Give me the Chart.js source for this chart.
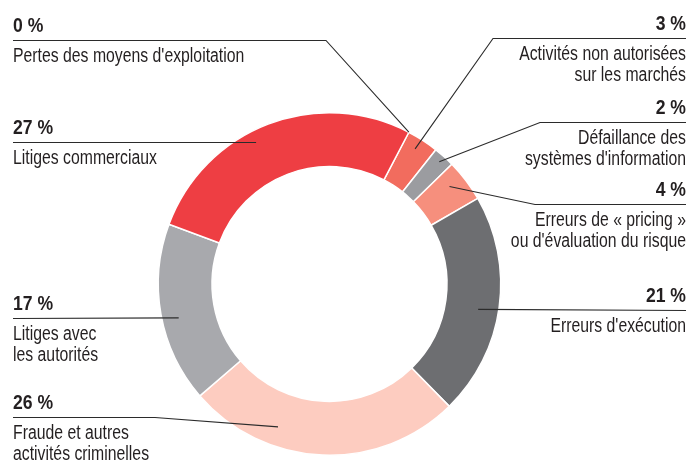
<!DOCTYPE html>
<html>
<head>
<meta charset="utf-8">
<script src="https://cdn.jsdelivr.net/npm/chart.js@4.4.1/dist/chart.umd.min.js"></script>
<style>
  html, body { margin: 0; padding: 0; background: #fff; }
  #wrap { width: 688px; height: 467px; position: relative; }
</style>
</head>
<body>
<div id="wrap"><canvas id="donut"></canvas></div>
<script>
// categories, clockwise from the top-right
const categories = [
  ["Pertes des moyens d'exploitation"],
  ['Activités non autorisées', 'sur les marchés'],
  ['Défaillance des', "systèmes d'information"],
  ['Erreurs de « pricing »', "ou d'évaluation du risque"],
  ["Erreurs d'exécution"],
  ['Fraude et autres', 'activités criminelles'],
  ['Litiges avec', 'les autorités'],
  ['Litiges commerciaux']
];
const shares = [0, 3, 2, 4, 21, 26, 17, 27];
const shareLabels = shares.map(v => v + ' %');

const sliceColors = ['#c4c4c4', '#f26c5e', '#9b9ca0', '#f68f7d', '#6d6e71', '#fdccc0', '#a8a9ad', '#ee3e43'];

// where each callout sits (layout only)
const callouts = [
  { side: 'left',  lineY: 40,  elbowX: 326, along: 0.5,   depth: 1.0 },
  { side: 'right', lineY: 38,  elbowX: 493, along: 0.44,  depth: 0.79 },
  { side: 'right', lineY: 122, elbowX: 540, along: 0.49,  depth: 0.87 },
  { side: 'right', lineY: 204, elbowX: 535, along: 0.37,  depth: 0.69 },
  { side: 'right', lineY: 310, elbowX: null, along: 0.525, depth: 0.62 },
  { side: 'left',  lineY: 417, elbowX: 155, along: 0.686, depth: 0.64 },
  { side: 'left',  lineY: 318, elbowX: null, along: 0.46,  depth: 0.69 },
  { side: 'left',  lineY: 142, elbowX: null, along: 0.434, depth: 0.78 }
];

// no condensed face installed, so squeeze Liberation Sans sideways
const FONT = "'Liberation Sans', Arial, sans-serif";
const LEFT_X = 13, RIGHT_X = 686;

function narrowText(ctx, txt, x, y, squeeze) {
  ctx.save();
  ctx.translate(x, y);
  ctx.scale(squeeze, 1);
  ctx.fillText(txt, 0, 0);
  ctx.restore();
}

const calloutPlugin = {
  id: 'callouts',
  afterDraw(chart) {
    const ctx = chart.ctx;
    const arcs = chart.getDatasetMeta(0).data;
    ctx.save();
    arcs.forEach((arc, i) => {
      const c = callouts[i];
      const p = arc.getProps(['x', 'y', 'startAngle', 'endAngle', 'innerRadius', 'outerRadius'], true);
      const a = p.startAngle + (p.endAngle - p.startAngle) * c.along;
      const r = p.innerRadius + (p.outerRadius - p.innerRadius) * c.depth;
      const ax = p.x + Math.cos(a) * r;
      const ay = p.y + Math.sin(a) * r;
      const x0 = c.side === 'left' ? LEFT_X : RIGHT_X;

      ctx.strokeStyle = '#2b2b2b';
      ctx.lineWidth = 1.1;
      ctx.beginPath();
      ctx.moveTo(x0, c.lineY + 0.5);
      if (c.elbowX !== null) ctx.lineTo(c.elbowX, c.lineY + 0.5);
      ctx.lineTo(ax, ay);
      ctx.stroke();

      ctx.fillStyle = '#231f20';
      ctx.textAlign = c.side === 'left' ? 'left' : 'right';
      ctx.textBaseline = 'alphabetic';
      ctx.font = 'bold 20px ' + FONT;
      narrowText(ctx, shareLabels[i], x0, c.lineY - 8, 0.88);
      ctx.font = '19.5px ' + FONT;
      categories[i].forEach((line, k) => {
        narrowText(ctx, line, x0, c.lineY + 22 + k * 21, 0.81);
      });
    });
    ctx.restore();
  }
};

new Chart(document.getElementById('donut'), {
  type: 'doughnut',
  data: {
    labels: categories.map(l => l.join(' ')),
    datasets: [{
      data: shares,
      backgroundColor: sliceColors,
      borderColor: '#ffffff',
      borderWidth: 1.5
    }]
  },
  options: {
    responsive: true,
    maintainAspectRatio: false,
    animation: false,
    rotation: 27.6,
    cutout: '68.6%',
    layout: { padding: { left: 157, right: 186, top: 112, bottom: 11 } },
    plugins: {
      legend: { display: false },
      tooltip: { enabled: false }
    }
  },
  plugins: [calloutPlugin]
});
</script>
</body>
</html>
